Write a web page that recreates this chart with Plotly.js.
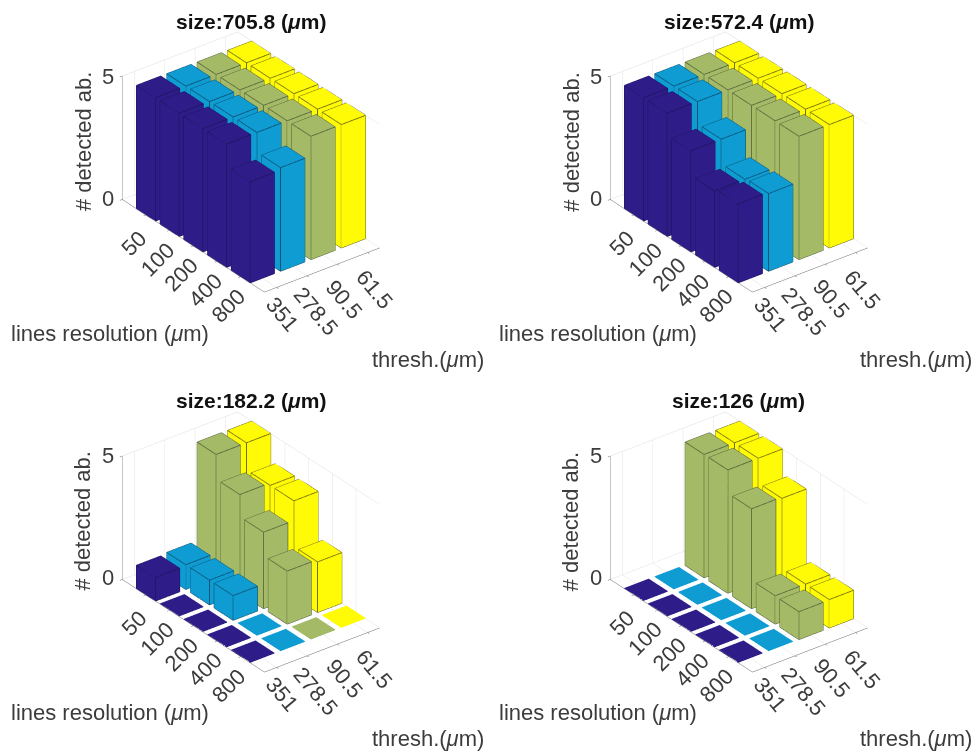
<!DOCTYPE html>
<html><head><meta charset="utf-8">
<script src="https://cdn.plot.ly/plotly-3.0.1.min.js"></script>
<style>html,body{margin:0;padding:0;background:#fff}#p{width:975px;height:753px;filter:blur(0.45px)}</style>
</head><body><div id="p"></div>
<script>
const lineRes = ['50','100','200','400','800'];
const thresh = ['351','278.5','90.5','61.5'];
const sizes = ['705.8','572.4','182.2','126'];
const colours = ['#2e1c89','#0e9cd3','#a5ba66','#fffa05'];
const edgeColours = ['#1d1458','#0b4a66','#4f5a35','#5e5c10'];
// rows: lineRes, one array per thresh
const s705 = [[5,5,5,5,4.1],[5,5,5,5,4.2],[5,5,5,5,5],[5,5,5,5,5]];
const s572 = [[5,5,4.1,3.1,3.2],[5,5,4.1,3.1,3.15],[5,5,5,5,5],[5,5,5,5,5]];
const s182 = [[0.95,0,0,0,0],[1,1,1,0,0],[5,4,3.1,2.15,0],[5,3.9,3.9,2.05,0]];
const s126 = [[0,0,0,0,0],[0,0,0,0,0],[5,5,4.05,1.15,1.13],[5,5,4,1.15,1.15]];
const panels = [s705,s572,s182,s126];

const W=975,H=753, DX=487.7, DY=379.6;
const TXT='#3c3c3c', FONT='Liberation Sans, Arial, sans-serif', FS=22;
const XR=[0.6,4.4], YR=[0,6], ZR=[0,5], SC=1.337;
const traces=[]; const layout={width:W,height:H,margin:{l:0,r:0,t:0,b:0},paper_bgcolor:'#fff',showlegend:false,annotations:[]};

function paperNote(px,py,text,o){
  layout.annotations.push(Object.assign({xref:'paper',yref:'paper',x:px/W,y:1-py/H,text:text,showarrow:false,
    font:{family:FONT,size:FS,color:TXT},xanchor:'center',yanchor:'middle'},o||{}));
}
panels.forEach((vals,p)=>{
  const sid = p===0?'scene':'scene'+(p+1);
  const dx=(p%2)*DX, dy=(p>1?1:0)*DY;
  vals.forEach((col,j)=>{
    const X=[],Y=[],Z=[],I=[],J=[],K2=[],eX=[],eY=[],eZ=[];
    col.forEach((v,i)=>{
      const h=Math.max(v,0.03);
      const xc=j+1, yc=5-i, b=X.length, w=0.4;
      const cx=[xc-w,xc+w,xc+w,xc-w], cy=[yc-w,yc-w,yc+w,yc+w];
      for(const z of [0,h]) for(let c=0;c<4;c++){X.push(cx[c]);Y.push(cy[c]);Z.push(z);}
      const f=[[4,5,6],[4,6,7],[0,1,5],[0,5,4],[1,2,6],[1,6,5],[2,3,7],[2,7,6],[3,0,4],[3,4,7]];
      f.forEach(t=>{I.push(b+t[0]);J.push(b+t[1]);K2.push(b+t[2]);});
      if(v>0){
        for(let c=0;c<=4;c++){eX.push(cx[c%4]);eY.push(cy[c%4]);eZ.push(h);}
        eX.push(null);eY.push(null);eZ.push(null);
        for(let c=0;c<4;c++){eX.push(cx[c],cx[c],null);eY.push(cy[c],cy[c],null);eZ.push(0,h,null);}
        for(let c=0;c<=4;c++){eX.push(cx[c%4]);eY.push(cy[c%4]);eZ.push(0);}
        eX.push(null);eY.push(null);eZ.push(null);
      }
    });
    traces.push({type:'mesh3d',scene:sid,x:X,y:Y,z:Z,i:I,j:J,k:K2,color:colours[j],flatshading:true,
      lighting:{ambient:1,diffuse:0,specular:0,roughness:1,fresnel:0},hoverinfo:'skip',showscale:false});
    if(eX.length) traces.push({type:'scatter3d',scene:sid,mode:'lines',x:eX,y:eY,z:eZ,line:{color:edgeColours[j],width:1.6},hoverinfo:'skip'});
  });
  // back-wall top edges
  traces.push({type:'scatter3d',scene:sid,mode:'lines',x:[XR[0],XR[1],XR[1]],y:[YR[1],YR[1],YR[0]],z:[5,5,5],
    line:{color:'#dcdcdc',width:1},hoverinfo:'skip'});

  const ax=(tv,r)=>({range:r,tickvals:tv,ticktext:tv.map(()=>''),showticklabels:false,title:{text:''},
    showgrid:true,gridcolor:'#e2e2e2',gridwidth:1,zeroline:false,showline:true,linecolor:'#666',linewidth:1,
    showbackground:false,ticks:'outside',ticklen:3,tickcolor:'#555',showspikes:false});
  const cx=251+dx, cy=162+dy, hw=180, hh=150;
  const anns=[];
  lineRes.forEach((t,i)=>anns.push({x:XR[0],y:5-i,z:0,text:t,showarrow:false,textangle:-45,xanchor:'center',yanchor:'middle',
    xshift:-12,yshift:-29,font:{family:FONT,size:FS,color:TXT}}));
  thresh.forEach((t,j)=>anns.push({x:j+1,y:YR[0],z:0,text:t,showarrow:false,textangle:50,xanchor:'center',yanchor:'middle',
    xshift:[6,9,7,7][j],yshift:-[27,36,35,37][j],font:{family:FONT,size:FS,color:TXT}}));
  layout[sid]={domain:{x:[(cx-hw)/W,(cx+hw)/W],y:[1-(cy+hh)/H,1-(cy-hh)/H]},
    aspectmode:'manual',aspectratio:{x:0.725*SC,y:1.165*SC,z:0.71*SC},
    camera:{projection:{type:'orthographic'},up:{x:0,y:0,z:1},center:{x:0,y:0,z:0},eye:{x:-0.527,y:-0.687,z:0.5}},
    xaxis:ax([1,2,3,4],XR),yaxis:ax([1,2,3,4,5],YR),zaxis:ax([0,5],ZR),annotations:anns,bgcolor:'rgba(0,0,0,0)'};

  paperNote(251+dx,[22,22,400,400][p],'<b>size:'+sizes[p]+' (<i>μ</i>m)</b>',{font:{family:FONT,size:21,color:'#111'}});
  paperNote(108+dx,76+dy,'5'); paperNote(108+dx,198+dy,'0');
  paperNote(83+dx,142+dy,'# detected ab.',{textangle:-90});
  paperNote(9+dx,333+dy,'lines resolution (<i>μ</i>m)',{xanchor:'left'});
  paperNote(370+dx,359+dy,'thresh.(<i>μ</i>m)',{xanchor:'left'});
});
Plotly.newPlot('p',traces,layout,{displayModeBar:false});
</script></body></html>
